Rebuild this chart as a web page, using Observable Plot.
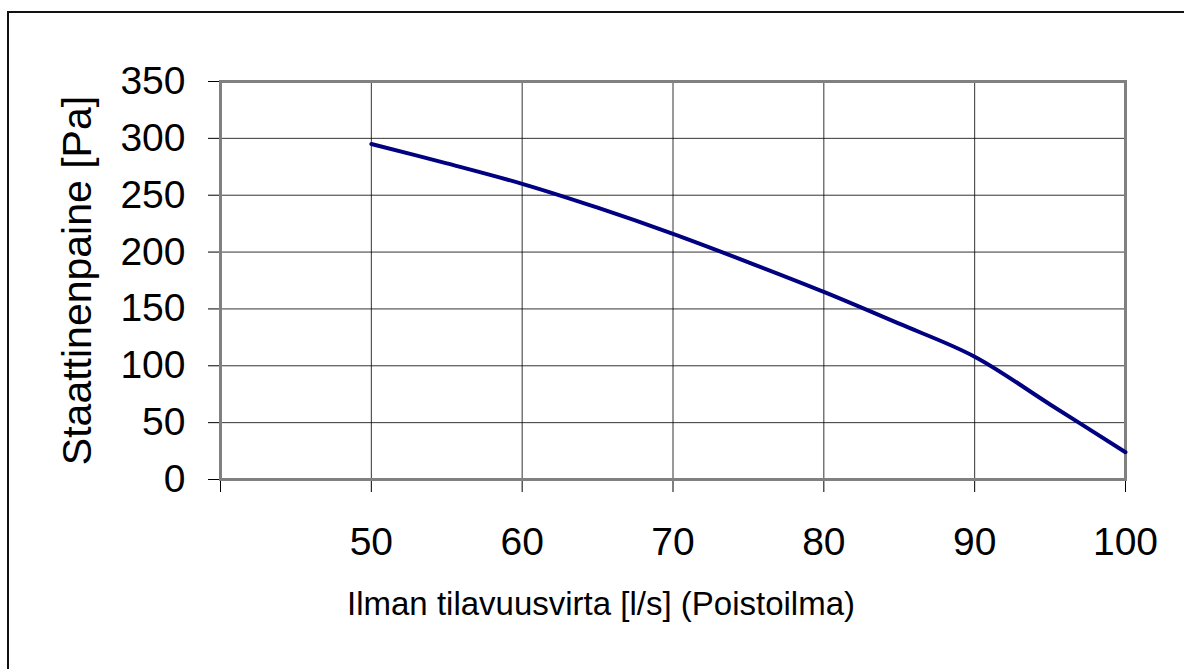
<!DOCTYPE html>
<html><head><meta charset="utf-8">
<script src="https://cdn.jsdelivr.net/npm/d3@7"></script>
<script src="https://cdn.jsdelivr.net/npm/@observablehq/plot@0.6"></script>
<style>
html,body{margin:0;padding:0;background:#fff;}
#wrap{position:relative;width:1184px;height:669px;overflow:hidden;}
#border{position:absolute;left:7px;top:11px;width:1300px;height:800px;border:2px solid #111;box-sizing:border-box;}
#chart{position:absolute;left:0;top:0;}
</style></head><body>
<div id="wrap"><div id="border"></div><div id="chart"></div></div>
<script>
const flow = [50,55,60,65,70,75,80,85,90,95,100];
const pressure = [295,278,260,239,216,191,165,137,108,66,24];
const xTickValues = [40,50,60,70,80,90,100];
const xTickLabels = ["","50","60","70","80","90","100"];
const yTickValues = [0,50,100,150,200,250,300,350];
const xTitle = "Ilman tilavuusvirta [l/s] (Poistoilma)";
const yTitle = "Staattinenpaine [Pa]";

const data = flow.map((f,i)=>({flow:f, pressure:pressure[i]}));

const chart = Plot.plot({
  width:1184, height:669,
  marginLeft:220, marginRight:59, marginTop:81, marginBottom:190,
  x:{domain:[40,100]},
  y:{domain:[0,350]},
  style:{fontFamily:"'Liberation Sans', Arial, sans-serif", background:"transparent", color:"#000"},
  marks:[
    Plot.gridY(yTickValues, {stroke:"#000", strokeOpacity:0.8, strokeWidth:1}),
    Plot.gridX(xTickValues.filter(v=>v>40 && v<100), {stroke:"#000", strokeOpacity:0.8, strokeWidth:1}),
    Plot.axisY(yTickValues, {tickSize:12, tickPadding:23, fontSize:39, label:null, tickFormat:d=>String(d)}),
    Plot.axisX(xTickValues, {tickSize:13, tickPadding:35, fontSize:39, label:null, tickFormat:d=>xTickLabels[xTickValues.indexOf(d)]}),
    Plot.frame({stroke:"#808080", strokeWidth:3}),
    Plot.line(data, {x:"flow", y:"pressure", stroke:"#000080", strokeWidth:4, curve:"catmull-rom"}),
    Plot.text([yTitle], {text:d=>d, frameAnchor:"left", rotate:-90, dx:-143, fontSize:41, lineAnchor:"middle", textAnchor:"middle", fill:"#000"}),
    Plot.text([xTitle], {text:d=>d, frameAnchor:"bottom", dx:-72, dy:125, fontSize:33, lineAnchor:"middle", textAnchor:"middle", fill:"#000"})
  ]
});
document.getElementById("chart").appendChild(chart);
</script>
</body></html>
